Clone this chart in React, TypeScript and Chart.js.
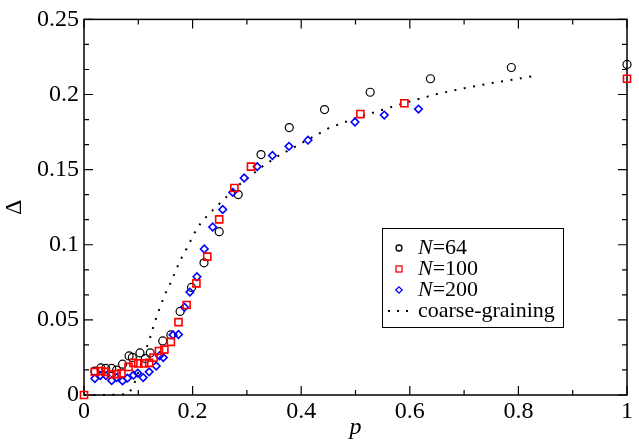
import React, { useEffect, useRef } from "react";
import { Chart, registerables } from "chart.js";
Chart.register(...registerables);

// ---- data ----
const pN64 = [0.020, 0.031, 0.040, 0.051, 0.060, 0.071, 0.083, 0.089, 0.103, 0.113, 0.122, 0.145, 0.160, 0.177, 0.198, 0.221, 0.249, 0.284, 0.326, 0.378, 0.443, 0.527, 0.638, 0.787, 1.0];
const dN64 = [0.0159, 0.018, 0.0177, 0.0177, 0.0165, 0.0205, 0.026, 0.025, 0.028, 0.0243, 0.028, 0.036, 0.040, 0.0556, 0.0716, 0.088, 0.1087, 0.1334, 0.160, 0.178, 0.190, 0.2015, 0.2105, 0.218, 0.220];

const pN100 = [0, 0.020, 0.031, 0.040, 0.050, 0.060, 0.069, 0.082, 0.091, 0.100, 0.111, 0.120, 0.128, 0.138, 0.148, 0.160, 0.174, 0.189, 0.207, 0.227, 0.249, 0.277, 0.3075, 0.509, 0.590, 1.0];
const dN100 = [0, 0.0154, 0.0159, 0.0154, 0.0137, 0.0139, 0.0144, 0.0187, 0.0214, 0.021, 0.021, 0.0214, 0.0249, 0.0293, 0.0302, 0.0354, 0.0485, 0.0599, 0.0743, 0.0921, 0.1169, 0.1378, 0.152, 0.187, 0.1942, 0.2105];

const pN200 = [0.020, 0.030, 0.0405, 0.051, 0.060, 0.071, 0.080, 0.091, 0.099, 0.109, 0.120, 0.133, 0.139, 0.146, 0.164, 0.174, 0.185, 0.195, 0.208, 0.2215, 0.237, 0.2555, 0.274, 0.295, 0.319, 0.347, 0.3775, 0.4125, 0.499, 0.553, 0.616];
const dN200 = [0.011, 0.0129, 0.0129, 0.0096, 0.0116, 0.0094, 0.0112, 0.0132, 0.0146, 0.0116, 0.0154, 0.0193, 0.0261, 0.0249, 0.040, 0.0403, 0.0584, 0.0685, 0.0787, 0.0972, 0.1118, 0.1235, 0.1349, 0.1444, 0.152, 0.1594, 0.1655, 0.1696, 0.1817, 0.1863, 0.1903];

const pCoarse = [0, 0.04, 0.08, 0.09, 0.1, 0.11, 0.12, 0.13, 0.14, 0.15, 0.16, 0.17, 0.18, 0.19, 0.2, 0.21, 0.22, 0.23, 0.24, 0.25, 0.26, 0.28, 0.3, 0.33, 0.36, 0.4, 0.45, 0.5, 0.55, 0.6, 0.65, 0.7, 0.75, 0.8, 0.83];
const dCoarse = [0, 0, 0.0005, 0.005, 0.015, 0.0265, 0.036, 0.0482, 0.0585, 0.0677, 0.075, 0.0837, 0.0915, 0.098, 0.1055, 0.112, 0.1165, 0.1205, 0.124, 0.1275, 0.131, 0.1384, 0.1439, 0.1525, 0.1596, 0.1675, 0.1775, 0.1843, 0.1899, 0.1954, 0.2003, 0.2042, 0.2076, 0.2105, 0.2125];

const seriesLabels = ["N=64", "N=100", "N=200", "coarse-graining"];

const xMajorTicks = [0, 0.2, 0.4, 0.6, 0.8, 1];
const xTickLabels = ["0", "0.2", "0.4", "0.6", "0.8", "1"];
const xMinorTicks = [0.1, 0.3, 0.5, 0.7, 0.9];
const yMajorTicks = [0, 0.05, 0.1, 0.15, 0.2, 0.25];
const yTickLabels = ["0", "0.05", "0.1", "0.15", "0.2", "0.25"];
const yMinorTicks = [0.05 / 3, 0.1 / 3, 0.2 / 3, 0.25 / 3, 0.35 / 3, 0.4 / 3, 0.5 / 3, 0.55 / 3, 0.65 / 3, 0.7 / 3];

const FONT = "'Liberation Serif', 'Times New Roman', serif";

const toPts = (xs: number[], ys: number[]) => xs.map((x, i) => ({ x, y: ys[i] }));

const framePlugin = {
  id: "frame",
  beforeDatasetsDraw(chart: any) {
    const { ctx, chartArea: a, scales } = chart;
    const xs = scales.x, ys = scales.y;
    ctx.save();
    ctx.strokeStyle = "#000";
    ctx.lineWidth = 1.5;
    ctx.strokeRect(a.left, a.top, a.right - a.left, a.bottom - a.top);
    ctx.lineWidth = 1.2;
    ctx.beginPath();
    const xt = (v: number, len: number) => {
      const px = xs.getPixelForValue(v);
      ctx.moveTo(px, a.bottom); ctx.lineTo(px, a.bottom - len);
      ctx.moveTo(px, a.top); ctx.lineTo(px, a.top + len);
    };
    const yt = (v: number, len: number) => {
      const py = ys.getPixelForValue(v);
      ctx.moveTo(a.left, py); ctx.lineTo(a.left + len, py);
      ctx.moveTo(a.right, py); ctx.lineTo(a.right - len, py);
    };
    xMajorTicks.forEach((v) => xt(v, 9));
    xMinorTicks.forEach((v) => xt(v, 5));
    yMajorTicks.forEach((v) => yt(v, 9));
    yMinorTicks.forEach((v) => yt(v, 5));
    ctx.stroke();
    ctx.restore();
  },
};

const legendPlugin = {
  id: "customLegend",
  afterDraw(chart: any) {
    const { ctx } = chart;
    const bx = 382, by = 228, bw = 181, bh = 99;
    ctx.save();
    ctx.fillStyle = "#fff";
    ctx.fillRect(bx, by, bw, bh);
    ctx.strokeStyle = "#000";
    ctx.lineWidth = 1;
    ctx.strokeRect(bx + 0.5, by + 0.5, bw, bh);
    const ds = chart.data.datasets;
    ds.forEach((d: any, i: number) => {
      const cy = by + 20 + i * 21;
      const sx = bx + 17;
      ctx.lineWidth = 1.3;
      ctx.strokeStyle = d.borderColor;
      ctx.fillStyle = d.borderColor;
      if (d.pointStyle === "circle") {
        ctx.beginPath(); ctx.arc(sx, cy, 3, 0, Math.PI * 2); ctx.stroke();
      } else if (d.pointStyle === "rect") {
        ctx.strokeRect(sx - 3, cy - 3, 6, 6);
      } else if (d.pointStyle === "rectRot") {
        ctx.beginPath();
        ctx.moveTo(sx - 3.2, cy); ctx.lineTo(sx, cy - 3.2); ctx.lineTo(sx + 3.2, cy); ctx.lineTo(sx, cy + 3.2);
        ctx.closePath(); ctx.stroke();
      } else {
        [-10, -1, 8].forEach((o) => ctx.fillRect(sx + o - 1, cy - 1, 2, 2));
      }
      ctx.fillStyle = "#000";
      ctx.textBaseline = "middle";
      ctx.textAlign = "left";
      let tx = bx + 36;
      const label: string = d.label;
      if (label.startsWith("N=")) {
        ctx.font = `italic 22px ${FONT}`;
        ctx.fillText("N", tx, cy);
        tx += ctx.measureText("N").width;
        ctx.font = `22px ${FONT}`;
        ctx.fillText(label.slice(1), tx, cy);
      } else {
        ctx.font = `22px ${FONT}`;
        ctx.fillText(label, tx, cy);
      }
    });
    ctx.restore();
  },
};

export default function App() {
  const ref = useRef<HTMLCanvasElement>(null);
  useEffect(() => {
    const chart = new Chart(ref.current!, {
      type: "scatter",
      data: {
        datasets: [
          {
            label: seriesLabels[0], data: toPts(pN64, dN64), pointStyle: "circle", pointRadius: 4,
            borderColor: "#000", backgroundColor: "rgba(0,0,0,0)", pointBorderWidth: 1.2, showLine: false, clip: false, order: 3,
          },
          {
            label: seriesLabels[1], data: toPts(pN100, dN100), pointStyle: "rect", pointRadius: 5,
            borderColor: "#ff0000", backgroundColor: "rgba(0,0,0,0)", pointBorderWidth: 1.6, showLine: false, clip: false, order: 1,
          },
          {
            label: seriesLabels[2], data: toPts(pN200, dN200), pointStyle: "rectRot", pointRadius: 3.8,
            borderColor: "#0000ff", backgroundColor: "rgba(0,0,0,0)", pointBorderWidth: 1.6, showLine: false, clip: false, order: 2,
          },
          {
            label: seriesLabels[3], data: toPts(pCoarse, dCoarse), pointStyle: "line", pointRadius: 0,
            borderColor: "#000", showLine: true, borderWidth: 2, borderDash: [2, 7.5], borderCapStyle: "butt",
            tension: 0, clip: false, order: 4,
          } as any,
        ],
      },
      options: {
        animation: false,
        responsive: false,
        devicePixelRatio: 1,
        layout: { padding: { top: 17, right: 12, left: 0, bottom: 0 } },
        plugins: { legend: { display: false }, tooltip: { enabled: false } },
        scales: {
          x: {
            type: "linear", min: 0, max: 1,
            afterBuildTicks: (s: any) => { s.ticks = xMajorTicks.map((v) => ({ value: v })); },
            afterFit: (s: any) => { s.height = 47; },
            ticks: {
              color: "#000", font: { family: FONT, size: 24 }, padding: 2, maxRotation: 0, autoSkip: false,
              callback: (v: any) => xTickLabels[xMajorTicks.indexOf(Number(v))] ?? "",
            },
            grid: { display: false, drawTicks: false },
            border: { display: false },
            title: { display: true, text: "p", color: "#000", font: { family: FONT, size: 24, style: "italic" }, padding: { top: 0, bottom: 0 } },
          },
          y: {
            type: "linear", min: 0, max: 0.25,
            afterBuildTicks: (s: any) => { s.ticks = yMajorTicks.map((v) => ({ value: v })); },
            afterFit: (s: any) => { s.width = 84; },
            ticks: {
              color: "#000", font: { family: FONT, size: 24 }, padding: 5, autoSkip: false,
              callback: (v: any) => {
                const i = yMajorTicks.findIndex((t) => Math.abs(t - Number(v)) < 1e-9);
                return i >= 0 ? yTickLabels[i] : "";
              },
            },
            grid: { display: false, drawTicks: false },
            border: { display: false },
            title: { display: true, text: "Δ", color: "#000", font: { family: FONT, size: 24 }, padding: { top: 0, bottom: 0 } },
          },
        },
      },
      plugins: [framePlugin, legendPlugin],
    } as any);
    return () => chart.destroy();
  }, []);
  return (
    <div style={{ position: "absolute", left: 0, top: 0, width: 639, height: 442, background: "#fff" }}>
      <canvas ref={ref} width={639} height={442} style={{ width: 639, height: 442, display: "block" }} />
    </div>
  );
}
